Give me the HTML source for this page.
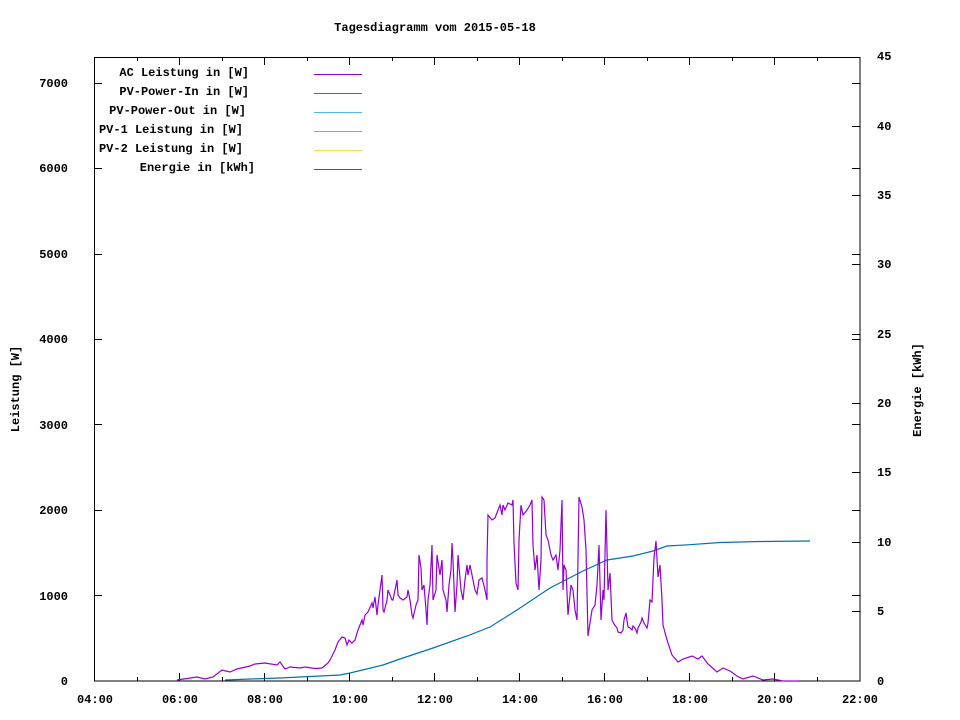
<!DOCTYPE html>
<html><head><meta charset="utf-8"><style>
html,body{margin:0;padding:0;background:#fff}
svg{display:block}
text{font-family:"Liberation Mono","DejaVu Sans Mono",monospace;font-size:12px;font-weight:bold;fill:#000}
</style></head><body>
<svg width="960" height="720" viewBox="0 0 960 720" xmlns="http://www.w3.org/2000/svg">
<rect width="960" height="720" fill="#fff"/>
<text x="435" y="31" text-anchor="middle">Tagesdiagramm vom 2015-05-18</text>
<!-- frame -->
<rect x="94.5" y="57.5" width="765.5" height="623.5" fill="none" stroke="#000" stroke-width="1"/>
<g stroke="#000" stroke-width="1">
<!-- x ticks major (every 2h) -->
<path d="M179.5 681v-8M264.5 681v-8M349.5 681v-8M434.5 681v-8M519.5 681v-8M604.5 681v-8M689.5 681v-8M774.5 681v-8
M179.5 57v8M264.5 57v8M349.5 57v8M434.5 57v8M519.5 57v8M604.5 57v8M689.5 57v8M774.5 57v8
M137.5 681v-4M222.5 681v-4M307.5 681v-4M392.5 681v-4M477.5 681v-4M562.5 681v-4M647.5 681v-4M732.5 681v-4M817.5 681v-4
M137.5 57v4M222.5 57v4M307.5 57v4M392.5 57v4M477.5 57v4M562.5 57v4M647.5 57v4M732.5 57v4M817.5 57v4"/>
<!-- left y ticks -->
<path d="M94 595.5h8M94 510.5h8M94 424.5h8M94 339.5h8M94 254.5h8M94 168.5h8M94 83.5h8
M860 595.5h-8M860 510.5h-8M860 424.5h-8M860 339.5h-8M860 254.5h-8M860 168.5h-8M860 83.5h-8"/>
<!-- right y ticks -->
<path d="M860 611.5h-8M860 542.5h-8M860 472.5h-8M860 403.5h-8M860 334.5h-8M860 264.5h-8M860 195.5h-8M860 126.5h-8"/>
</g>
<!-- x labels -->
<g text-anchor="middle">
<text x="95" y="703">04:00</text><text x="180" y="703">06:00</text><text x="265" y="703">08:00</text>
<text x="350" y="703">10:00</text><text x="435" y="703">12:00</text><text x="520" y="703">14:00</text>
<text x="605" y="703">16:00</text><text x="690" y="703">18:00</text><text x="775" y="703">20:00</text>
<text x="860" y="703">22:00</text>
</g>
<!-- left labels -->
<g text-anchor="end">
<text x="68" y="685">0</text><text x="68" y="600">1000</text><text x="68" y="514">2000</text>
<text x="68" y="429">3000</text><text x="68" y="343">4000</text><text x="68" y="258">5000</text>
<text x="68" y="172">6000</text><text x="68" y="87">7000</text>
</g>
<!-- right labels -->
<g text-anchor="start">
<text x="877" y="685">0</text><text x="877" y="615">5</text><text x="877" y="546">10</text>
<text x="877" y="476">15</text><text x="877" y="407">20</text><text x="877" y="338">25</text>
<text x="877" y="268">30</text><text x="877" y="199">35</text><text x="877" y="130">40</text>
<text x="877" y="60">45</text>
</g>
<text transform="translate(19,389) rotate(-90)" text-anchor="middle">Leistung [W]</text>
<text transform="translate(921,390) rotate(-90)" text-anchor="middle">Energie [kWh]</text>
<!-- legend -->
<g text-anchor="end">
<text x="249" y="76">AC Leistung in [W]</text>
<text x="249" y="95">PV-Power-In in [W]</text>
<text x="246" y="114">PV-Power-Out in [W]</text>
<text x="243" y="133">PV-1 Leistung in [W]</text>
<text x="243" y="152">PV-2 Leistung in [W]</text>
<text x="255" y="171">Energie in [kWh]</text>
</g>
<g stroke-width="1">
<path d="M314 74.5h48" stroke="#9400d3"/>
<path d="M314 93.5h48" stroke="#009e73"/>
<path d="M314 112.5h48" stroke="#56b4e9"/>
<path d="M314 131.5h48" stroke="#e69f00"/>
<path d="M314 150.5h48" stroke="#f0e442"/>
<path d="M314 169.5h48" stroke="#0072b2"/>
</g>
<!-- energy -->
<polyline fill="none" stroke="#0072b2" stroke-width="1.2" points="225,680 250,679 280,678 300,677 340,675 350,673 383,665 400,659 433,648 467,636 490,627 517,610 550,588 583,571 607,560 633,556 653,551 667,546 690,544.7 720,542.5 760,541.5 810,541"/>
<!-- AC -->
<polyline fill="none" stroke="#9400d3" stroke-width="1.2" points="177,680 197,677 205,679 213,677 222,670 230,672 237,669 250,666 255,664 265,663 277,665 280,662 285,669 290,667 300,668 305,667 315,668.5 322,668 328,663 330,660 335,650 338,642 342,637 345,638 347,645 349,640 352,643 355,640 358,630 360,625 362,620 363,625 365,615 368,612 372,603 373,608 375,597 377,615 378,605 380,590 382,575 383,610 384,612 387,600 388,590 392,600 393,600 395,590 397,580 398,595 400,598 403,600 407,597 408,590 410,600 412,615 413,618 416,605 418,600 419,555 421,568 422,590 424,585 426,610 427,625 428,600 430,585 432,545 433,600 436,590 437,555 440,575 442,560 443,590 446,600 447,612 449,585 451,570 452,543 453,560 455,612 457,585 458,555 461,590 463,600 465,580 467,565 468,575 470,565 473,580 475,590 477,594 479,580 482,578 483,582 485,590 487,600 487,560 488,515 492,520 495,518 498,510 500,505 502,515 503,505 505,510 508,503 512,505 513,500 514,543 516,583 518,590 519,540 521,505 523,515 527,510 530,505 532,500 533,545 535,570 537,555 539,590 541,560 542,497 544,500 546,535 548,540 551,555 553,560 556,555 558,570 560,550 562,500 563,590 564,565 566,570 568,615 571,585 573,590 575,610 577,620 579,497 582,507 584,520 586,550 588,636 592,610 595,605 597,585 599,545 601,620 603,590 604,600 606,510 608,590 610,573 612,620 613,622 614,624 617,628 618,632 621,633 623,630 624,620 626,613 627,620 628,627 630,628 632,630 633,626 635,628 637,633 638,628 641,622 642,618 644,623 647,628 648,623 650,600 652,602 653,580 654,558 656,541 658,577 660,565 662,600 663,625 667,640 672,655 678,662 683,659 692,656 698,659 702,656 708,664 717,672 723,668 730,671 737,676 743,679 753,676 763,680 773,679 783,681 799,681"/>
</svg>
</body></html>
